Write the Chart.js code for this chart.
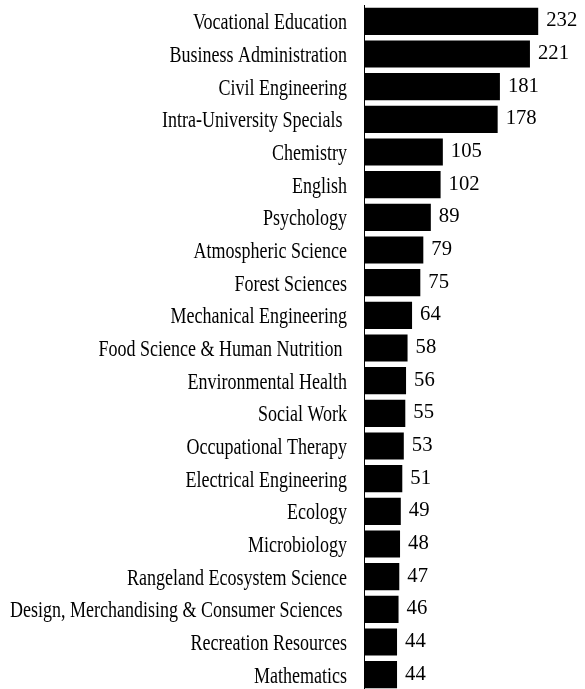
<!DOCTYPE html>
<html>
<head>
<meta charset="utf-8">
<script src="https://cdn.jsdelivr.net/npm/chart.js@4/dist/chart.umd.min.js"></script>
<style>
  html, body { margin: 0; padding: 0; background: #fff; overflow: hidden; }
  #wrap { width: 585px; height: 700px; }
</style>
</head>
<body>
<div id="wrap"><canvas id="chart" width="585" height="700"></canvas></div>
<script>
'use strict';

/* ── data ── */
const departments = [
  'Vocational Education', 'Business Administration', 'Civil Engineering',
  'Intra-University Specials ', 'Chemistry', 'English', 'Psychology',
  'Atmospheric Science', 'Forest Sciences', 'Mechanical Engineering',
  'Food Science & Human Nutrition ', 'Environmental Health', 'Social Work',
  'Occupational Therapy', 'Electrical Engineering', 'Ecology', 'Microbiology',
  'Rangeland Ecosystem Science', 'Design, Merchandising & Consumer Sciences ',
  'Recreation Resources', 'Mathematics'
];
const counts = [232, 221, 181, 178, 105, 102, 89, 79, 75, 64, 58, 56, 55, 53, 51, 49, 48, 47, 46, 44, 44];

const SERIF = '"Liberation Serif", "Times New Roman", serif';

// the reference text is tall and narrow, so draw it squeezed horizontally
function squeezedText(ctx, text, x, y, size, sx, align) {
  ctx.save();
  ctx.translate(x, y);
  ctx.scale(sx, 1);
  ctx.font = `${size}px ${SERIF}`;
  ctx.textAlign = align;
  ctx.textBaseline = 'alphabetic';
  ctx.fillText(text, 0, 0);
  ctx.restore();
}

// category labels + value labels
const textLayer = {
  id: 'textLayer',
  afterDatasetsDraw(chart) {
    const { ctx, chartArea } = chart;
    const yScale = chart.scales.y;
    const meta = chart.getDatasetMeta(0);
    ctx.save();
    ctx.fillStyle = '#000';
    departments.forEach((name, i) => {
      const y = yScale.getPixelForValue(i);
      squeezedText(ctx, name, chartArea.left - 17, y + 8, 24, 0.75, 'right');
    });
    meta.data.forEach((bar, i) => {
      squeezedText(ctx, String(counts[i]), bar.x + 8, bar.y + 5, 22, 0.94, 'left');
    });
    ctx.restore();
  }
};

new Chart(document.getElementById('chart'), {
  type: 'bar',
  data: {
    labels: departments,
    datasets: [{
      data: counts,
      backgroundColor: '#000',
      borderWidth: 0,
      barPercentage: 0.83,
      categoryPercentage: 1
    }]
  },
  options: {
    indexAxis: 'y',
    responsive: false,
    animation: false,
    layout: { padding: { top: 5, bottom: 9, left: 0, right: 10 } },
    plugins: { legend: { display: false }, tooltip: { enabled: false } },
    scales: {
      x: { display: false, min: 0, max: 281 },
      y: {
        afterFit(scale) {
          // fixed label column, no extra label padding above/below
          scale.width = 364;
          scale.paddingTop = 0;
          scale.paddingBottom = 0;
        },
        grid: { display: false, drawTicks: false },
        border: { display: true, color: '#000', width: 1 },
        ticks: { display: false }
      }
    }
  },
  plugins: [textLayer]
});
</script>
</body>
</html>
